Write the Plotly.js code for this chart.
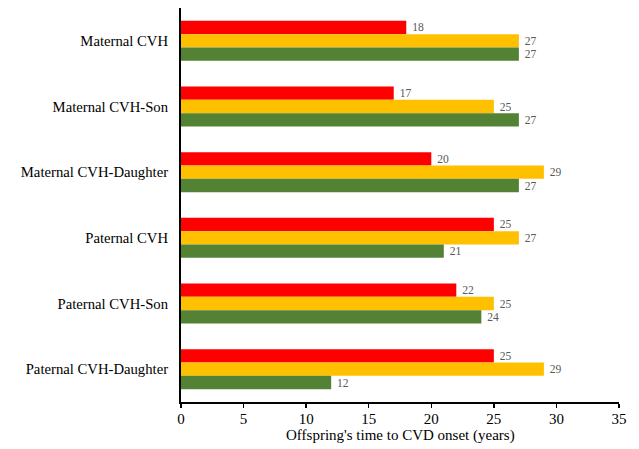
<!DOCTYPE html>
<html>
<head>
<meta charset="utf-8">
<script src="https://cdn.plot.ly/plotly-3.0.1.min.js"></script>
<style>html,body{margin:0;padding:0;background:#fff;}#chart{width:639px;height:449px;}</style>
</head>
<body>
<div id="chart"></div>
<script>
const categories = ["Maternal CVH", "Maternal CVH-Son", "Maternal CVH-Daughter", "Paternal CVH", "Paternal CVH-Son", "Paternal CVH-Daughter"];
const seriesNames = ["Series 1", "Series 2", "Series 3"];
const redValues = [18, 17, 20, 25, 22, 25];
const yellowValues = [27, 25, 29, 27, 25, 29];
const greenValues = [27, 27, 27, 21, 24, 12];
const colors = ["#FF0000", "#FFC000", "#548235"];
const xTicks = [0, 5, 10, 15, 20, 25, 30, 35];
const xTitle = "Offspring's time to CVD onset (years)";

const allValues = [redValues, yellowValues, greenValues];
const traces = allValues.map((vals, i) => ({
  type: "bar",
  orientation: "h",
  name: seriesNames[i],
  y: categories,
  x: vals,
  marker: {color: colors[i]},
  text: vals.map(v => "\u00a0" + String(v)),
  textposition: "outside",
  cliponaxis: false,
  textfont: {family: "Liberation Serif, Times New Roman, serif", size: 13, color: "#595959"},
  hoverinfo: "x+y"
}));

const layout = {
  width: 639, height: 449,
  margin: {l: 181, r: 20, t: 8, b: 47},
  paper_bgcolor: "#fff", plot_bgcolor: "#fff",
  barmode: "group",
  bargap: 0.39,
  bargroupgap: 0,
  showlegend: false,
  font: {family: "Liberation Serif, Times New Roman, serif", color: "#000"},
  xaxis: {
    range: [0, 35],
    tickvals: xTicks,
    ticktext: xTicks.map(String),
    showgrid: false,
    zeroline: false,
    showline: true,
    linecolor: "#000",
    linewidth: 2,
    ticks: "outside",
    ticklen: 4,
    tickwidth: 1.5,
    tickcolor: "#000",
    ticklabelstandoff: -2,
    tickfont: {size: 15, color: "#000"}
  },
  yaxis: {
    autorange: "reversed",
    showgrid: false,
    zeroline: false,
    showline: true,
    linecolor: "#000",
    linewidth: 2,
    ticks: "",
    ticklabelstandoff: 8,
    tickfont: {size: 14.7, color: "#000"}
  },
  annotations: [{
    text: xTitle,
    xref: "paper", yref: "paper",
    x: 0.5, y: 0,
    xanchor: "center", yanchor: "middle",
    yshift: -33,
    showarrow: false,
    font: {size: 15, color: "#000"}
  }]
};

Plotly.newPlot("chart", traces, layout, {displayModeBar: false, staticPlot: true});
</script>
</body>
</html>
